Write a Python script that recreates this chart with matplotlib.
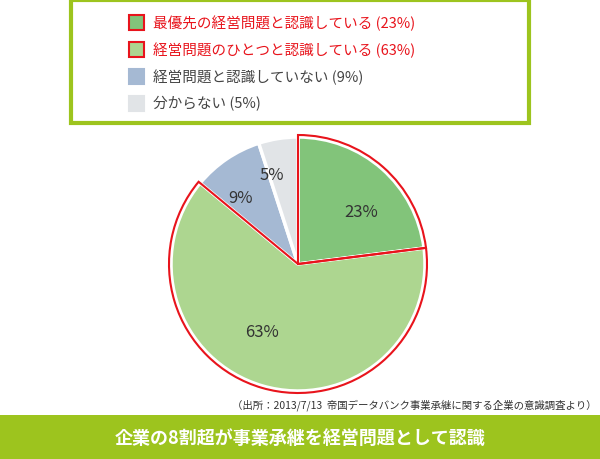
import matplotlib.pyplot as plt
from matplotlib.patches import Rectangle, Wedge

plt.rcParams['font.family'] = 'Noto Sans CJK JP'

labels = ['最優先の経営問題と認識している (23%)', '経営問題のひとつと認識している (63%)',
          '経営問題と認識していない (9%)', '分からない (5%)']
values = [23, 63, 9, 5]
pct_labels = ['23%', '63%', '9%', '5%']
colors = ['#82c47a', '#add690', '#a5b9d3', '#e1e4e7']
highlight = [True, True, False, False]

W, H = 600, 460
fig = plt.figure(figsize=(6, 4.6), dpi=100)

# pie
cx, cy, r = 298, 460 - 265, 127
ax = fig.add_axes([(cx - 150) / W, (cy - 150) / H, 300 / W, 300 / H])
wedges, texts = ax.pie(values, colors=colors, startangle=90, counterclock=False, radius=r,
                       center=(0, 0), wedgeprops=dict(edgecolor='white', linewidth=2.5),
                       labels=pct_labels, labeldistance=0.55, textprops=dict(fontsize=12, color='#333333'))
texts[2].set_position((texts[2].get_position()[0] * 1.15, texts[2].get_position()[1] * 1.15))
texts[3].set_position((texts[3].get_position()[0] * 1.3, texts[3].get_position()[1] * 1.3))
for w, h in zip(wedges, highlight):
    if h:
        ax.add_patch(Wedge((0, 0), r + 2, w.theta1, w.theta2, fill=False, edgecolor='#e8141c', linewidth=1.5))
ax.set_xlim(-150, 150)
ax.set_ylim(-150, 150)
ax.set_aspect('equal')
ax.axis('off')

# overlay in pixel coords
ov = fig.add_axes([0, 0, 1, 1], zorder=5)
ov.set_xlim(0, W)
ov.set_ylim(H, 0)
ov.axis('off')
ov.patch.set_alpha(0)

ov.add_patch(Rectangle((71, 1), 458, 123, fill=False, edgecolor='#9dc41e', linewidth=3))
for i, (lab, c, h) in enumerate(zip(labels, colors, highlight)):
    y = 23 + i * 27
    ov.add_patch(Rectangle((129, y - 7), 15, 15, facecolor=c, edgecolor='#e8141c' if h else c, linewidth=1.5))
    ov.text(153, y, lab, fontsize=10.5, va='center', color='#e8141c' if h else '#444444')

ov.text(597, 405, '（出所：2013/7/13  帝国データバンク事業承継に関する企業の意識調査より）',
        fontsize=7.5, ha='right', va='center', color='#333333')

ov.add_patch(Rectangle((0, 416), W, 44, facecolor='#9dc41e', edgecolor='none'))
ov.text(W / 2, 438, '企業の8割超が事業承継を経営問題として認識', fontsize=13, fontweight='bold',
        ha='center', va='center', color='white')

fig.savefig('out.png', dpi=100)
